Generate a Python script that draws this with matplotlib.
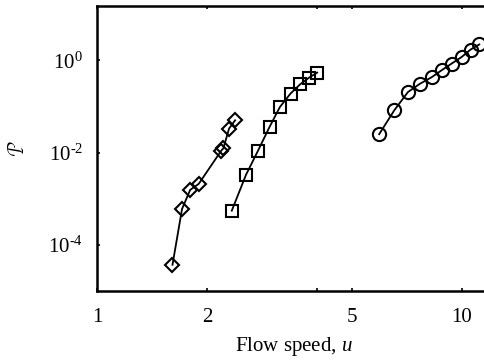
import matplotlib
matplotlib.use("Agg")
import matplotlib.pyplot as plt
from matplotlib.ticker import FixedLocator, FixedFormatter, NullFormatter

plt.rcParams["font.family"] = ["Liberation Serif", "DejaVu Serif"]
plt.rcParams["mathtext.fontset"] = "custom"
plt.rcParams["mathtext.rm"] = "Liberation Serif"
plt.rcParams["mathtext.it"] = "Liberation Serif:italic"
plt.rcParams["mathtext.cal"] = "cursive"

# diamonds
u_diamond = [1.61, 1.71, 1.80, 1.90, 2.19, 2.22, 2.30, 2.39]
p_diamond = [3.7e-5, 6.0e-4, 1.55e-3, 2.1e-3, 1.10e-2, 1.24e-2, 3.3e-2, 5.0e-2]

# squares
u_square = [2.34, 2.56, 2.76, 2.97, 3.17, 3.39, 3.60, 3.81, 4.01]
p_square = [5.5e-4, 3.3e-3, 1.09e-2, 3.6e-2, 9.7e-2, 0.19, 0.30, 0.42, 0.54]

# circles
u_circle = [5.93, 6.52, 7.11, 7.67, 8.26, 8.80, 9.37, 9.98, 10.56, 11.15]
p_circle = [0.025, 0.082, 0.205, 0.31, 0.43, 0.61, 0.85, 1.18, 1.71, 2.2]

x_ticks = [1, 2, 5, 10]
x_ticklabels = ["1", "2", "5", "10"]
y_ticks = [1e-4, 1e-2, 1e0]
y_ticklabels = ["10$^{\u2010\\mathregular{4}}$", "10$^{\u2010\\mathregular{2}}$", "10$^{\\mathregular{0}}$"]

fig = plt.figure(figsize=(4.84, 3.61), dpi=100)
ax = fig.add_axes([0.2004, 0.1939, 0.8139, 0.7895])

style = dict(color="black", lw=1.3, mfc="none", mec="black", mew=1.5)
ax.plot(u_diamond, p_diamond, marker="D", ms=7.5, **style)
ax.plot(u_square, p_square, marker="s", ms=8, **style)
ax.plot(u_circle, p_circle, marker="o", ms=9.5, **style)

ax.set_xscale("log")
ax.set_yscale("log")
ax.set_xlim(1, 12)
ax.set_ylim(1e-5, 15)

ax.xaxis.set_major_locator(FixedLocator(x_ticks))
ax.xaxis.set_major_formatter(FixedFormatter(x_ticklabels))
ax.xaxis.set_minor_locator(FixedLocator([4]))
ax.xaxis.set_minor_formatter(NullFormatter())
ax.yaxis.set_major_locator(FixedLocator(y_ticks))
ax.yaxis.set_major_formatter(FixedFormatter(y_ticklabels))
ax.yaxis.set_minor_locator(FixedLocator([]))

ax.tick_params(which="both", direction="in", length=2.5, width=1.2,
               top=True, right=True, labelsize=15)
ax.tick_params(axis="x", pad=12)
ax.tick_params(axis="y", pad=10)
for s in ax.spines.values():
    s.set_linewidth(1.8)

ax.set_xlabel(r"Flow speed, $\mathit{u}$", fontsize=15, labelpad=6)
ax.set_ylabel(r"$\mathcal{P}$", fontsize=15, labelpad=14)

fig.savefig("out.png", dpi=100)
